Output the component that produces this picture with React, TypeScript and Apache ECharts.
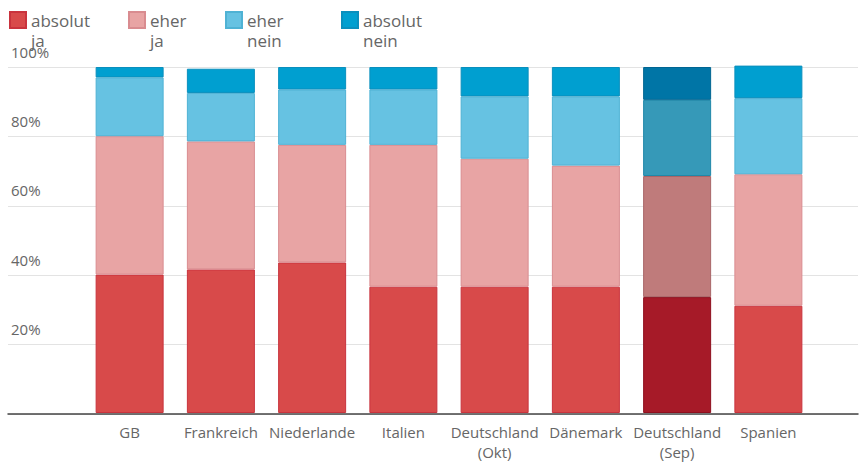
import React, { useEffect, useRef } from "react";
import * as echarts from "echarts";

const categories = [
  "GB",
  "Frankreich",
  "Niederlande",
  "Italien",
  "Deutschland\n(Okt)",
  "Dänemark",
  "Deutschland\n(Sep)",
  "Spanien",
];
const absolutJa = [40, 41.5, 43.5, 36.5, 36.5, 36.5, 33.5, 31];
const eherJa = [40, 37, 34, 41, 37, 35, 35, 38];
const eherNein = [17, 14, 16, 16, 18, 20, 22, 22];
const absolutNein = [3, 7, 6.5, 6.5, 8.5, 8.5, 9.5, 9.4];
const yTicks = [0, 20, 40, 60, 80, 100];
const highlightIndex = 6;

const seriesDefs = [
  { name: "absolut ja", data: absolutJa, color: "#d84a4a", border: "#c9333d", hi: "#a61a28", hiBorder: "#8e0f1e" },
  { name: "eher ja", data: eherJa, color: "#e8a4a4", border: "#d98c90", hi: "#bf7b7b", hiBorder: "#a86567" },
  { name: "eher nein", data: eherNein, color: "#66c2e2", border: "#4fb2d4", hi: "#3699b8", hiBorder: "#1f87a8" },
  { name: "absolut nein", data: absolutNein, color: "#009fd0", border: "#0a8fbd", hi: "#0075a6", hiBorder: "#006592" },
];
const legendLefts = [9, 128, 225, 341];

const FONT = "'Open Sans', sans-serif";

export default function App() {
  const ref = useRef<HTMLDivElement>(null);
  useEffect(() => {
    if (!ref.current) return;
    const chart = echarts.init(ref.current, undefined, { renderer: "svg" });
    const option: any = {
      animation: false,
      backgroundColor: "#ffffff",
      textStyle: { fontFamily: FONT },
      legend: seriesDefs.map((s, i) => ({
        data: [s.name],
        left: legendLefts[i],
        top: -10,
        padding: 0,
        itemWidth: 16,
        itemHeight: 16,
        icon: "rect",
        selectedMode: false,
        formatter: (n: string) => " \n" + n.replace(" ", "\n"),
        textStyle: {
          fontFamily: FONT,
          fontSize: 17,
          color: "#666666",
          lineHeight: 20,
        },
      })),
      grid: [
        { left: 8, right: 2, top: 67, bottom: 48 },
        { left: 84, right: 46, top: 67, bottom: 48 },
      ],
      xAxis: [
        {
          gridIndex: 0,
          type: "value",
          min: 0,
          max: 1,
          axisLine: { show: true, lineStyle: { color: "#444444", width: 1.5 } },
          axisTick: { show: false },
          axisLabel: { show: false },
          splitLine: { show: false },
        },
        {
          gridIndex: 1,
          type: "category",
          data: categories,
          axisLine: { show: false },
          axisTick: { show: false },
          axisLabel: {
            color: "#666666",
            fontSize: 15,
            lineHeight: 20,
            margin: 9,
            fontFamily: FONT,
            interval: 0,
          },
        },
      ],
      yAxis: [
        {
          gridIndex: 0,
          type: "value",
          min: yTicks[0],
          max: yTicks[yTicks.length - 1],
          interval: 20,
          axisLine: { show: false },
          axisTick: { show: false },
          splitLine: { show: true, lineStyle: { color: "#e3e3e3", width: 1 } },
          axisLabel: {
            inside: true,
            margin: 3,
            color: "#666666",
            fontSize: 15,
            fontFamily: FONT,
            verticalAlign: "bottom",
            padding: [0, 0, 8, 0],
            formatter: (v: number) => (v === 0 ? "" : v + "%"),
          },
        },
        {
          gridIndex: 1,
          type: "value",
          min: 0,
          max: 100,
          show: false,
          splitLine: { show: false },
        },
      ],
      series: seriesDefs.map((s) => ({
        name: s.name,
        type: "bar",
        stack: "total",
        xAxisIndex: 1,
        yAxisIndex: 1,
        barWidth: 68,
        clip: false,
        itemStyle: { color: s.color, borderColor: s.border, borderWidth: 1 },
        data: s.data.map((v, i) =>
          i === highlightIndex
            ? { value: v, itemStyle: { color: s.hi, borderColor: s.hiBorder, borderWidth: 1 } }
            : v
        ),
      })),
    };
    chart.setOption(option);
    return () => chart.dispose();
  }, []);
  return (
    <div
      ref={ref}
      style={{ position: "fixed", left: 0, top: 0, width: 860, height: 462 }}
    />
  );
}
